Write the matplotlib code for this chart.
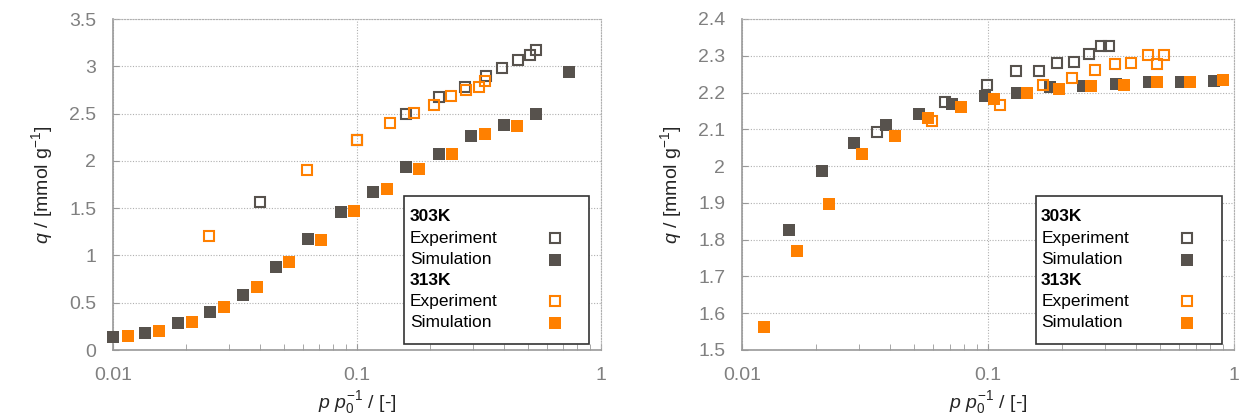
import matplotlib
matplotlib.use("Agg")
import matplotlib.pyplot as plt
from matplotlib.patches import Rectangle

plt.rcParams["font.family"] = ["Liberation Sans", "DejaVu Sans"]
plt.rcParams["mathtext.fontset"] = "custom"
plt.rcParams["mathtext.rm"] = "Liberation Sans"
plt.rcParams["mathtext.it"] = "Liberation Sans:italic"
plt.rcParams["mathtext.bf"] = "Liberation Sans:bold"

# ---------------- left panel ----------------
left_exp303_p = [0.0399, 0.100, 0.159, 0.2175, 0.277, 0.338, 0.394, 0.455, 0.513, 0.543]
left_exp303_q = [1.56, 2.216, 2.499, 2.675, 2.785, 2.893, 2.982, 3.07, 3.115, 3.168]
left_sim303_p = [0.0100, 0.01356, 0.01846, 0.02505, 0.0341, 0.0464, 0.0630, 0.0857,
                 0.1167, 0.159, 0.216, 0.294, 0.400, 0.542, 0.736]
left_sim303_q = [0.135, 0.185, 0.284, 0.397, 0.577, 0.873, 1.178, 1.456,
                 1.67, 1.94, 2.07, 2.265, 2.38, 2.50, 2.935]
left_exp313_p = [0.0247, 0.0625, 0.100, 0.136, 0.1706, 0.207, 0.2426, 0.280, 0.316, 0.336]
left_exp313_q = [1.207, 1.907, 2.22, 2.40, 2.506, 2.594, 2.682, 2.745, 2.781, 2.84]
left_sim313_p = [0.01147, 0.01547, 0.0210, 0.02852, 0.0389, 0.0527, 0.0715, 0.0974,
                 0.1323, 0.1803, 0.2447, 0.3337, 0.4529]
left_sim313_q = [0.143, 0.203, 0.298, 0.450, 0.667, 0.933, 1.168, 1.475,
                 1.704, 1.916, 2.075, 2.28, 2.371]
left_yticks = [0, 0.5, 1, 1.5, 2, 2.5, 3, 3.5]
left_ylabels = ["0", "0.5", "1", "1.5", "2", "2.5", "3", "3.5"]

# ---------------- right panel ----------------
right_exp303_p = [0.0354, 0.0668, 0.0995, 0.1294, 0.161, 0.1916, 0.223, 0.2577, 0.287, 0.309]
right_exp303_q = [2.093, 2.174, 2.221, 2.258, 2.258, 2.281, 2.284, 2.305, 2.327, 2.327]
right_sim303_p = [0.01549, 0.02105, 0.02853, 0.03866, 0.0526, 0.07152, 0.0969, 0.1318,
                  0.1792, 0.2438, 0.3315, 0.4493, 0.611, 0.831]
right_sim303_q = [1.827, 1.987, 2.064, 2.113, 2.142, 2.170, 2.190, 2.200,
                  2.214, 2.219, 2.224, 2.228, 2.230, 2.232]
right_exp313_p = [0.0592, 0.1115, 0.1677, 0.2189, 0.2734, 0.3279, 0.3817, 0.4453, 0.4874, 0.517]
right_exp313_q = [2.122, 2.167, 2.220, 2.240, 2.260, 2.278, 2.280, 2.302, 2.279, 2.302]
right_sim313_p = [0.01226, 0.01667, 0.02267, 0.03084, 0.04195, 0.05705, 0.07759, 0.1055,
                  0.1435, 0.1937, 0.2634, 0.357, 0.4856, 0.6604, 0.898]
right_sim313_q = [1.563, 1.770, 1.897, 2.034, 2.081, 2.130, 2.160, 2.182,
                  2.198, 2.210, 2.217, 2.221, 2.228, 2.230, 2.233]
right_yticks = [1.5, 1.6, 1.7, 1.8, 1.9, 2.0, 2.1, 2.2, 2.3, 2.4]
right_ylabels = ["1.5", "1.6", "1.7", "1.8", "1.9", "2", "2.1", "2.2", "2.3", "2.4"]

xticks = [0.01, 0.1, 1]
xlabels = ["0.01", "0.1", "1"]

legend_rows = ["303K", "Experiment", "Simulation", "313K", "Experiment", "Simulation"]

GRAY = "#57524d"
ORANGE = "#ff8000"
TICK_GRAY = "#808080"
GRID_GRAY = "#b0b0b0"

FILLED = dict(marker="s", ms=8.6, mew=0, ls="none")
OPEN = dict(marker="s", ms=7.4, mew=1.5, mfc="none", ls="none")

fig = plt.figure(figsize=(12.43, 4.19), dpi=100)
ax1 = fig.add_axes([113 / 1243, 69 / 419, 488 / 1243, 331 / 419])
ax2 = fig.add_axes([742 / 1243, 69 / 419, 492 / 1243, 331 / 419])


def style_axes(ax, ylim, yticks, ylabels):
    ax.set_xscale("log")
    ax.set_xlim(0.01, 1)
    ax.set_ylim(*ylim)
    ax.set_xticks(xticks)
    ax.set_xticklabels(xlabels)
    ax.set_yticks(yticks)
    ax.set_yticklabels(ylabels)
    ax.grid(True, which="major", color=GRID_GRAY, ls=(0, (1, 1.5)), lw=0.8)
    ax.set_axisbelow(True)
    for side in ("left", "bottom"):
        ax.spines[side].set_color("#999999")
        ax.spines[side].set_linewidth(1.2)
    for side in ("top", "right"):
        ax.spines[side].set_color(GRID_GRAY)
        ax.spines[side].set_linestyle((0, (1, 1.5)))
        ax.spines[side].set_linewidth(0.8)
    ax.tick_params(axis="both", which="major", direction="in", length=4,
                   color="#999999", labelsize=14, labelcolor=TICK_GRAY, pad=12)
    ax.tick_params(axis="x", which="minor", direction="in", length=4, color="#999999")
    ax.tick_params(axis="y", which="minor", left=False)
    ax.set_xlabel(r"$p$ $p_0^{-1}$ / [-]", fontsize=14, color="#262626", labelpad=4)
    ax.set_ylabel(r"$q$ / [mmol g$^{-1}$]", fontsize=14, color="#262626", labelpad=10)


def draw_legend(ax):
    x0, x1, y0, y1 = 0.597, 0.975, 0.018, 0.464
    ax.add_patch(Rectangle((x0, y0), x1 - x0, y1 - y0, transform=ax.transAxes,
                           facecolor="white", edgecolor="#333333", lw=1.2,
                           zorder=5, clip_on=False))
    row_y = [0.402, 0.337, 0.273, 0.210, 0.147, 0.082]
    styles = [None, (GRAY, OPEN), (GRAY, FILLED), None, (ORANGE, OPEN), (ORANGE, FILLED)]
    for label, y, st in zip(legend_rows, row_y, styles):
        bold = st is None
        ax.text(0.608, y, label, transform=ax.transAxes, fontsize=12.5,
                fontweight="bold" if bold else "normal", color="black",
                va="center", ha="left", zorder=6)
        if st is not None:
            color, kw = st
            if kw is OPEN:
                ax.plot([0.905], [y], transform=ax.transAxes, mec=color,
                        clip_on=False, zorder=6, **kw)
            else:
                ax.plot([0.905], [y], transform=ax.transAxes, mfc=color,
                        clip_on=False, zorder=6, **kw)


def draw_panel(ax, e3p, e3q, s3p, s3q, e1p, e1q, s1p, s1q):
    ax.plot(e3p, e3q, mec=GRAY, zorder=3, clip_on=False, **OPEN)
    ax.plot(s3p, s3q, mfc=GRAY, zorder=3, clip_on=False, **FILLED)
    ax.plot(e1p, e1q, mec=ORANGE, zorder=4, clip_on=False, **OPEN)
    ax.plot(s1p, s1q, mfc=ORANGE, zorder=4, clip_on=False, **FILLED)


draw_panel(ax1, left_exp303_p, left_exp303_q, left_sim303_p, left_sim303_q,
           left_exp313_p, left_exp313_q, left_sim313_p, left_sim313_q)
style_axes(ax1, (0, 3.5), left_yticks, left_ylabels)
draw_legend(ax1)

draw_panel(ax2, right_exp303_p, right_exp303_q, right_sim303_p, right_sim303_q,
           right_exp313_p, right_exp313_q, right_sim313_p, right_sim313_q)
style_axes(ax2, (1.5, 2.4), right_yticks, right_ylabels)
draw_legend(ax2)

fig.savefig("out.png", dpi=100)
